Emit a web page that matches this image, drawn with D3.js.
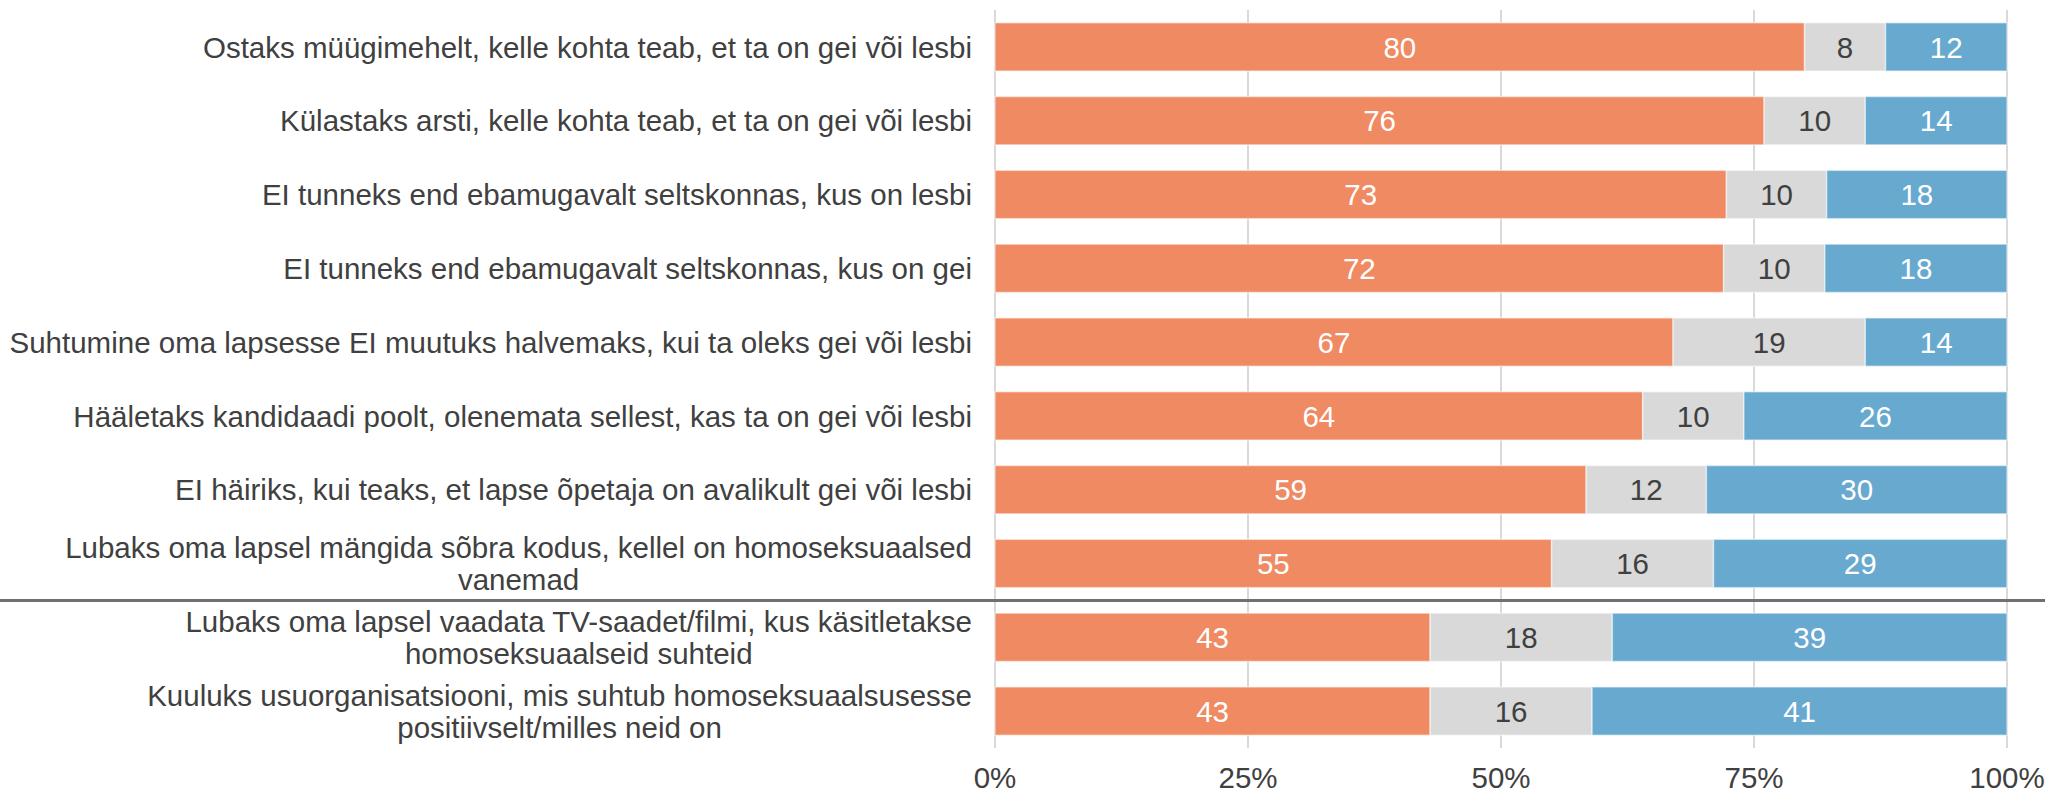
<!DOCTYPE html>
<html>
<head>
<meta charset="utf-8">
<script src="https://cdnjs.cloudflare.com/ajax/libs/d3/7.8.5/d3.min.js"></script>
<style>
  body { margin: 0; background: #fff; }
  svg { display: block; }
</style>
</head>
<body>
<script>
// data
var categories = [
  "Ostaks müügimehelt, kelle kohta teab, et ta on gei või lesbi",
  "Külastaks arsti, kelle kohta teab, et ta on gei või lesbi",
  "EI tunneks end ebamugavalt seltskonnas, kus on lesbi",
  "EI tunneks end ebamugavalt seltskonnas, kus on gei",
  "Suhtumine oma lapsesse EI muutuks halvemaks, kui ta oleks gei või lesbi",
  "Hääletaks kandidaadi poolt, olenemata sellest, kas ta on gei või lesbi",
  "EI häiriks, kui teaks, et lapse õpetaja on avalikult gei või lesbi",
  "Lubaks oma lapsel mängida sõbra kodus, kellel on homoseksuaalsed\nvanemad",
  "Lubaks oma lapsel vaadata TV-saadet/filmi, kus käsitletakse\nhomoseksuaalseid suhteid",
  "Kuuluks usuorganisatsiooni, mis suhtub homoseksuaalsusesse\npositiivselt/milles neid on"
];
var positive = [80, 76, 73, 72, 67, 64, 59, 55, 43, 43];
var neutral  = [8, 10, 10, 10, 19, 10, 12, 16, 18, 16];
var negative = [12, 14, 18, 18, 14, 26, 30, 29, 39, 41];
var tickValues = [0, 0.25, 0.5, 0.75, 1];
var tickLabels = ["0%", "25%", "50%", "75%", "100%"];

var seriesKeys = ["positive", "neutral", "negative"];
var colors = {positive: "#ef8a62", neutral: "#d9d9d9", negative: "#67a9cf"};
var textColors = {positive: "#ffffff", neutral: "#404040", negative: "#ffffff"};

var rows = categories.map(function(c, i) {
  return {category: c, positive: positive[i], neutral: neutral[i], negative: negative[i]};
});

// layout
var width = 2045,
    height = 795,
    plotLeft = 995,
    plotRight = 2007,
    plotTop = 10,
    plotBottom = 748,
    fontSize = 29.5;

var svg = d3.select("body").append("svg")
    .attr("width", width)
    .attr("height", height)
    .style("font-family", "'Liberation Sans', Arial, sans-serif");

var x = d3.scaleLinear().domain([0, 1]).range([plotLeft, plotRight]);
var y = d3.scaleBand()
    .domain(categories)
    .range([plotTop, plotBottom])
    .paddingInner(0.345)
    .paddingOuter(0.1725);

// gridlines
svg.append("g").selectAll("line")
    .data(tickValues)
  .enter().append("line")
    .attr("x1", function(d) { return x(d); })
    .attr("x2", function(d) { return x(d); })
    .attr("y1", plotTop)
    .attr("y2", plotBottom)
    .attr("stroke", "#d9d9d9")
    .attr("stroke-width", 2);

// tick labels
svg.append("g").selectAll("text")
    .data(tickValues)
  .enter().append("text")
    .attr("x", function(d) { return x(d); })
    .attr("y", 788)
    .attr("text-anchor", "middle")
    .attr("font-size", fontSize)
    .attr("fill", "#404040")
    .text(function(d, i) { return tickLabels[i]; });

// stacked bars, normalised to 100%
var stack = d3.stack().keys(seriesKeys).offset(d3.stackOffsetExpand);
var layers = stack(rows);

var layer = svg.append("g").selectAll("g")
    .data(layers)
  .enter().append("g")
    .attr("fill", function(d) { return colors[d.key]; });

layer.selectAll("rect")
    .data(function(d) { return d; })
  .enter().append("rect")
    .attr("x", function(d) { return x(d[0]); })
    .attr("y", function(d) { return y(d.data.category); })
    .attr("width", function(d) { return x(d[1]) - x(d[0]); })
    .attr("height", y.bandwidth())
    .attr("stroke", "#ffffff")
    .attr("stroke-opacity", 0.5)
    .attr("stroke-width", 1.5);

layer.selectAll("text")
    .data(function(d) { return d.map(function(p) { p.key = d.key; return p; }); })
  .enter().append("text")
    .attr("x", function(d) { return (x(d[0]) + x(d[1])) / 2; })
    .attr("y", function(d) { return y(d.data.category) + y.bandwidth() / 2; })
    .attr("dy", "0.36em")
    .attr("text-anchor", "middle")
    .attr("font-size", fontSize)
    .attr("fill", function(d) { return textColors[d.key]; })
    .text(function(d) { return d.data[d.key]; });

// category labels, right aligned block, lines centred inside it
var labelRight = 972,
    lineHeight = 32;

var labels = svg.append("g").selectAll("text")
    .data(categories)
  .enter().append("text")
    .attr("font-size", fontSize)
    .attr("fill", "#404040")
    .attr("text-anchor", "middle");

labels.each(function(d) {
  var t = d3.select(this);
  var lines = d.split("\n");
  var cy = y(d) + y.bandwidth() / 2;
  var spans = lines.map(function(line, i) {
    return t.append("tspan")
        .attr("y", cy + (i - (lines.length - 1) / 2) * lineHeight)
        .attr("dy", "0.36em")
        .text(line);
  });
  var maxW = d3.max(spans, function(s) { return s.node().getComputedTextLength(); });
  spans.forEach(function(s) { s.attr("x", labelRight - maxW / 2); });
});

// separator between the two groups
var sepY = (y(categories[7]) + y.bandwidth() + y(categories[8])) / 2;
svg.append("line")
    .attr("x1", 0)
    .attr("x2", width)
    .attr("y1", sepY)
    .attr("y2", sepY)
    .attr("stroke", "#707070")
    .attr("stroke-width", 3);
</script>
</body>
</html>
